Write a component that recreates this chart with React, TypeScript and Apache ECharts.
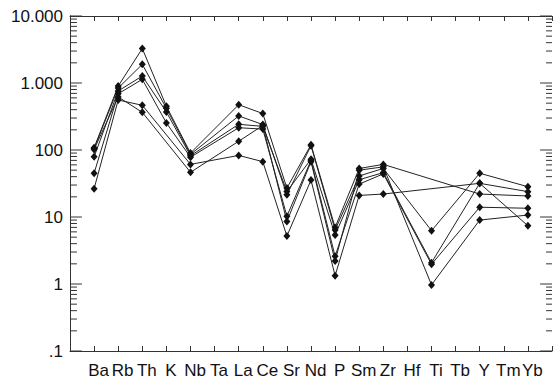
import React, { useEffect, useRef } from "react";
import * as echarts from "echarts";

const elements = ["Ba", "Rb", "Th", "K", "Nb", "Ta", "La", "Ce", "Sr", "Nd", "P", "Sm", "Zr", "Hf", "Ti", "Tb", "Y", "Tm", "Yb"];

const s1 = [108, 900, 3270, 449, 90, null, 474, 350, 27, 120, 7.0, 53, 61, null, null, null, 22, null, 20.6];
const s2 = [105, 840, 1900, 419, 86, null, 322, 240, 21.5, 116, 6.4, 41, 53, null, 6.25, null, 45, null, 28.3];
const s3 = [79, 760, 1270, 369, 82, null, 242, 225, 24, 73, 5.4, 36, 46, null, 2.08, null, 31.8, null, 7.4];
const s4 = [45, 690, 1135, 253, 78, null, 215, 205, 10.3, 70, 2.6, 31, 44, null, 1.97, null, 14, null, 13.5];
const s5 = [26.5, 557, 465, null, 61, null, 83, 67, 5.2, 35.6, 1.33, 21, 22, null, null, null, 31.8, null, 23.9];
const s6 = [102, 620, 365, null, 46.5, null, 135, 232, 8.6, 67, 2.2, 50, 56, null, 0.97, null, 9.0, null, 10.7];

const allSeries = [s1, s2, s3, s4, s5, s6];

const majorTicks = [0.1, 1, 10, 100, 1000, 10000];
const majorLabels = [".1", "1", "10", "100", "1.000", "10.000"];
const minorTicks = [
  0.2, 0.3, 0.4, 0.5, 0.6, 0.7, 0.8, 0.9,
  2, 3, 4, 5, 6, 7, 8, 9,
  20, 30, 40, 50, 60, 70, 80, 90,
  200, 300, 400, 500, 600, 700, 800, 900,
  2000, 3000, 4000, 5000, 6000, 7000, 8000, 9000,
];

const AXIS_COLOR = "#333";
const FONT = "'Liberation Sans', Arial, sans-serif";
const X_MAX = 20;
const PX_PER_X = 24.3;

export default function App() {
  const ref = useRef<HTMLDivElement>(null);
  useEffect(() => {
    if (!ref.current) return;
    const chart = echarts.init(ref.current, null, { renderer: "svg" });

    const yBase = (position: string, showLabel: boolean) => ({
      type: "log",
      logBase: 10,
      min: 0.1,
      max: 10000,
      position,
      axisLine: { show: true, lineStyle: { color: AXIS_COLOR, width: 1 } },
      axisTick: { show: false },
      axisLabel: {
        show: showLabel,
        margin: 7,
        color: "#111",
        fontSize: 17,
        fontFamily: FONT,
        formatter: (v: number) => {
          const i = majorTicks.findIndex((t) => Math.abs(Math.log10(t) - Math.log10(v)) < 1e-6);
          return i >= 0 ? majorLabels[i] : "";
        },
      },
      splitLine: { show: false },
    });

    const xBase = (position: string, showLabel: boolean) => ({
      type: "value",
      min: 0,
      max: X_MAX,
      interval: 1,
      position,
      axisLine: { show: true, lineStyle: { color: AXIS_COLOR, width: 1 } },
      axisTick: { show: true, inside: true, length: 5, lineStyle: { color: AXIS_COLOR, width: 1 } },
      axisLabel: {
        show: showLabel,
        margin: 11,
        color: "#111",
        fontSize: 17,
        fontFamily: FONT,
        padding: [0, 0, 0, 9],
        formatter: (v: number) => elements[v - 1] || "",
      },
      splitLine: { show: false },
    });

    const series: any[] = allSeries.map((arr) => ({
      type: "line",
      xAxisIndex: 0,
      yAxisIndex: 0,
      data: arr
        .map((v, i) => (v == null ? null : [i + 1, v]))
        .filter((d) => d !== null),
      symbol: "diamond",
      symbolSize: [7, 8],
      itemStyle: { color: "#111" },
      lineStyle: { color: "#222", width: 1 },
      showSymbol: true,
      z: 3,
    }));

    // y-axis tick marks (major and minor, log positions) on both sides as short segments
    const tickSegs: any[] = [];
    const addTick = (v: number, lenL: number, lenR: number) => {
      tickSegs.push([0, v], [lenL / PX_PER_X, v], [0.5, "-"]);
      tickSegs.push([X_MAX - lenR / PX_PER_X, v], [X_MAX, v], [X_MAX - 0.5, "-"]);
    };
    majorTicks.forEach((v) => addTick(v, 12, 12));
    minorTicks.forEach((v) => addTick(v, 7, 6));
    series.push({
      type: "line",
      xAxisIndex: 0,
      yAxisIndex: 0,
      data: tickSegs,
      symbol: "none",
      connectNulls: false,
      clip: false,
      silent: true,
      lineStyle: { color: AXIS_COLOR, width: 1 },
      z: 2,
    });

    chart.setOption({
      animation: false,
      backgroundColor: "#fff",
      grid: { left: 70, top: 16, right: -1, bottom: 32, containLabel: false },
      xAxis: [xBase("bottom", true), xBase("top", false)],
      yAxis: [yBase("left", true), yBase("right", false)],
      series,
    });

    return () => chart.dispose();
  }, []);
  return (
    <div
      ref={ref}
      style={{ position: "fixed", left: 0, top: 0, width: 555, height: 383, background: "#fff" }}
    />
  );
}
